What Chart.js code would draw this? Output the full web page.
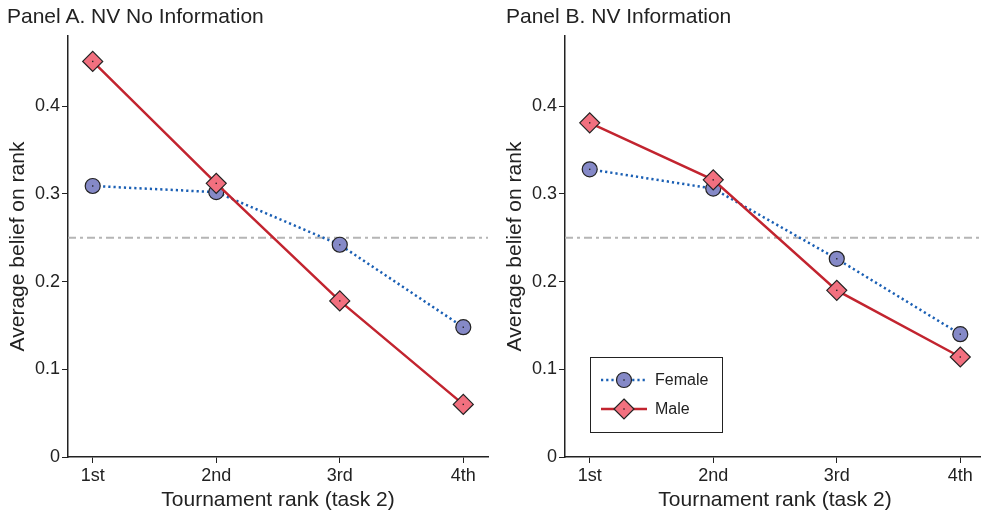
<!DOCTYPE html>
<html>
<head>
<meta charset="utf-8">
<script src="https://cdn.jsdelivr.net/npm/chart.js@4/dist/chart.umd.min.js"></script>
<style>
  html, body { margin: 0; padding: 0; background: #fff; overflow: hidden; }
  body { position: relative; width: 981px; height: 518px; }
  .panel { position: absolute; top: 0; width: 490px; height: 518px; }
  .panel canvas { position: absolute; left: 0; top: 0; }
  .panel-title {
    position: absolute; top: 5px; margin: 0;
    font: 21px/21px "Liberation Sans", Arial, sans-serif; color: #222;
    white-space: nowrap;
  }
</style>
</head>
<body>
<div class="panel" style="left:0">
  <canvas id="panelA" width="490" height="518"></canvas>
</div>
<div class="panel-title" style="left:7px">Panel A. NV No Information</div>
<div class="panel" style="left:497px">
  <canvas id="panelB" width="490" height="518"></canvas>
</div>
<div class="panel-title" style="left:506px">Panel B. NV Information</div>

<script>
// ranks on the x axis
const rankLabels = ["1st", "2nd", "3rd", "4th"];
const rankPos = [1, 2, 3, 4];

// average belief on rank, no information
const femaleNoInfo = [0.309, 0.302, 0.242, 0.148];
const maleNoInfo = [0.451, 0.312, 0.178, 0.06];

// average belief on rank, with information
const femaleInfo = [0.328, 0.306, 0.226, 0.14];
const maleInfo = [0.381, 0.316, 0.19, 0.114];

const yTicks = [0, 0.1, 0.2, 0.3, 0.4];
const chanceLevel = 0.25;

const FONT = "'Liberation Sans', Arial, sans-serif";
const INK = "#222";

const femaleStyle = {
  label: "Female",
  borderColor: "#1a5fb4",
  borderWidth: 2.5,
  borderDash: [2.2, 3],
  pointStyle: "circle",
  pointRadius: 7.5,
  pointHoverRadius: 7.5,
  pointBackgroundColor: "#8589c7",
  pointBorderColor: INK,
  pointBorderWidth: 1.2,
  order: 1,
};

const maleStyle = {
  label: "Male",
  borderColor: "#c2242f",
  borderWidth: 2.5,
  borderDash: [],
  pointStyle: "rectRot",
  pointRadius: 10,
  pointHoverRadius: 10,
  pointBackgroundColor: "#f2707f",
  pointBorderColor: INK,
  pointBorderWidth: 1.2,
  order: 0,
};

function toPoints(values) {
  return values.map((v, i) => ({ x: rankPos[i], y: v }));
}

// grey dash-dot line at the chance level
const chanceLine = {
  id: "chanceLine",
  beforeDatasetsDraw(chart) {
    const { ctx, chartArea } = chart;
    const y = chart.scales.y.getPixelForValue(chanceLevel);
    ctx.save();
    ctx.strokeStyle = "#b5b5b5";
    ctx.lineWidth = 1.8;
    ctx.setLineDash([8, 4, 3, 4]);
    ctx.beginPath();
    ctx.moveTo(chartArea.left, y);
    ctx.lineTo(chartArea.right, y);
    ctx.stroke();
    ctx.restore();
  },
};

// small dot in the middle of every marker
const centerDots = {
  id: "centerDots",
  afterDatasetDraw(chart, args) {
    const ctx = chart.ctx;
    ctx.save();
    ctx.fillStyle = INK;
    args.meta.data.forEach((pt) => {
      ctx.fillRect(pt.x - 0.7, pt.y - 0.7, 1.4, 1.4);
    });
    ctx.restore();
  },
};

function drawMarker(ctx, style, x, y) {
  ctx.beginPath();
  const r = style.pointRadius;
  if (style.pointStyle === "circle") {
    ctx.arc(x, y, r, 0, Math.PI * 2);
  } else {
    ctx.moveTo(x, y - r);
    ctx.lineTo(x + r, y);
    ctx.lineTo(x, y + r);
    ctx.lineTo(x - r, y);
    ctx.closePath();
  }
  ctx.fillStyle = style.pointBackgroundColor;
  ctx.fill();
  ctx.lineWidth = style.pointBorderWidth;
  ctx.strokeStyle = style.pointBorderColor;
  ctx.stroke();
  ctx.fillStyle = INK;
  ctx.fillRect(x - 0.7, y - 0.7, 1.4, 1.4);
}

// boxed legend in the lower left of the plot
const boxLegend = {
  id: "boxLegend",
  afterDraw(chart, args, opts) {
    if (!opts.show) return;
    const { ctx, chartArea } = chart;
    const left = chartArea.left + 25;
    const bottom = chartArea.bottom - 25;
    const w = 132, h = 75;
    const top = bottom - h;
    ctx.save();
    ctx.fillStyle = "#fff";
    ctx.fillRect(left, top, w, h);
    ctx.strokeStyle = INK;
    ctx.lineWidth = 1;
    ctx.strokeRect(left + 0.5, top + 0.5, w, h);

    [femaleStyle, maleStyle].forEach((style, i) => {
      const y = top + 23 + i * 29;
      ctx.strokeStyle = style.borderColor;
      ctx.lineWidth = style.borderWidth;
      ctx.setLineDash(style.borderDash);
      ctx.beginPath();
      ctx.moveTo(left + 11, y);
      ctx.lineTo(left + 57, y);
      ctx.stroke();
      ctx.setLineDash([]);
      drawMarker(ctx, style, left + 34, y);
      ctx.fillStyle = INK;
      ctx.font = "16px " + FONT;
      ctx.textBaseline = "middle";
      ctx.fillText(style.label, left + 65, y + 1);
    });
    ctx.restore();
  },
};

function makePanel(canvasId, female, male, showLegend) {
  const ctx = document.getElementById(canvasId);
  return new Chart(ctx, {
    type: "line",
    data: {
      datasets: [
        Object.assign({ data: toPoints(female) }, femaleStyle),
        Object.assign({ data: toPoints(male) }, maleStyle),
      ],
    },
    options: {
      responsive: false,
      animation: false,
      events: [],
      layout: {
        autoPadding: false,
        padding: { top: 36, right: 2, left: 0, bottom: 0 },
      },
      elements: { line: { tension: 0 } },
      plugins: {
        legend: { display: false },
        tooltip: { enabled: false },
        boxLegend: { show: showLegend },
      },
      scales: {
        x: {
          type: "linear",
          min: 0.8,
          max: 4.2,
          afterBuildTicks: (scale) => {
            scale.ticks = rankPos.map((v) => ({ value: v }));
          },
          afterFit: (scale) => {
            scale.height = 61;
          },
          ticks: {
            callback: (value) => rankLabels[rankPos.indexOf(value)],
            color: INK,
            font: { family: FONT, size: 18 },
            padding: 2,
            maxRotation: 0,
            autoSkip: false,
          },
          grid: {
            display: true,
            drawOnChartArea: false,
            tickLength: 6,
            color: INK,
            lineWidth: 1,
          },
          border: { display: true, color: INK, width: 1.5 },
          title: {
            display: true,
            text: "Tournament rank (task 2)",
            color: INK,
            font: { family: FONT, size: 21 },
            padding: 5,
          },
        },
        y: {
          type: "linear",
          min: 0,
          max: 0.48,
          afterBuildTicks: (scale) => {
            scale.ticks = yTicks.map((v) => ({ value: v }));
          },
          afterFit: (scale) => {
            scale.width = 68;
          },
          ticks: {
            callback: (value) => (value === 0 ? "0" : value.toFixed(1)),
            color: INK,
            font: { family: FONT, size: 18 },
            padding: 2,
          },
          grid: {
            display: true,
            drawOnChartArea: false,
            tickLength: 6,
            color: INK,
            lineWidth: 1,
          },
          border: { display: true, color: INK, width: 1.5 },
          title: {
            display: true,
            text: "Average belief on rank",
            color: INK,
            font: { family: FONT, size: 21 },
            padding: 6,
          },
        },
      },
    },
    plugins: [chanceLine, centerDots, boxLegend],
  });
}

makePanel("panelA", femaleNoInfo, maleNoInfo, false);
makePanel("panelB", femaleInfo, maleInfo, true);
</script>
</body>
</html>
